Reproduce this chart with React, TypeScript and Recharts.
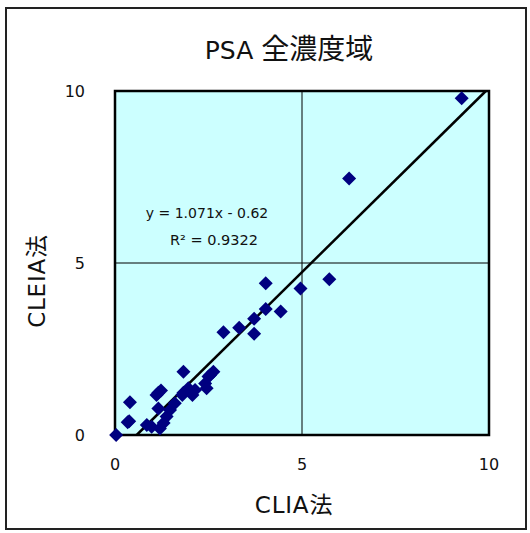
import React from 'react';
import {
  ScatterChart,
  Scatter,
  XAxis,
  YAxis,
  ReferenceArea,
  ReferenceLine,
} from 'recharts';

// CLIA法 (x) vs CLEIA法 (y)
const cliaValues = [
  0.03, 0.34, 0.38, 0.4, 0.85, 0.98, 1.16, 1.11, 1.23, 1.16,
  1.2, 1.3, 1.38, 1.47, 1.6, 1.8, 1.83, 1.83, 1.96, 2.07,
  2.14, 2.41, 2.45, 2.5, 2.54, 2.63, 2.9, 3.32, 3.72, 3.72,
  4.03, 4.03, 4.43, 4.96, 5.73, 6.26, 9.27,
];
const cleiaValues = [
  0.0, 0.37, 0.4, 0.95, 0.29, 0.24, 0.77, 1.16, 1.29, 1.23,
  0.19, 0.35, 0.54, 0.73, 0.92, 1.16, 1.84, 1.23, 1.36, 1.16,
  1.31, 1.5, 1.36, 1.7, 1.74, 1.84, 2.99, 3.12, 3.38, 2.94,
  3.66, 4.41, 3.59, 4.26, 4.53, 7.46, 9.79,
];
const ticks = [0, 5, 10];

const slope = 1.071;
const intercept = -0.62;

const points = cliaValues.map((x, i) => ({ x, y: cleiaValues[i] }));

const FONT = "'DejaVu Sans', Verdana, 'Noto Sans CJK JP', sans-serif";

const Diamond = (props: any) => {
  const { cx, cy } = props;
  const r = 7;
  return (
    <polygon
      points={`${cx},${cy - r} ${cx + r},${cy} ${cx},${cy + r} ${cx - r},${cy}`}
      fill="#000080"
    />
  );
};

export default function App() {
  const lineStart = { x: -intercept / slope, y: 0 };
  const lineEnd = { x: (10 - intercept) / slope, y: 10 };

  return (
    <div style={{ position: 'absolute', left: 0, top: 0, width: 530, height: 533, background: '#fff', fontFamily: FONT, color: '#111' }}>
      <div style={{ position: 'absolute', left: 5, top: 7, width: 518, height: 519, border: '2px solid #222' }} />
      <ScatterChart
        width={530}
        height={533}
        margin={{ top: 91, right: 41, bottom: 38, left: 0 }}
        style={{ position: 'absolute', left: 0, top: 0 }}
      >
        <XAxis
          type="number"
          dataKey="x"
          domain={[0, 10]}
          ticks={ticks}
          height={60}
          axisLine={false}
          tickLine={false}
          tickMargin={18}
          tick={{ fill: '#111', fontSize: 16, fontFamily: FONT }}
        />
        <YAxis
          type="number"
          dataKey="y"
          domain={[0, 10]}
          ticks={ticks}
          width={115}
          axisLine={false}
          tickLine={false}
          tickMargin={24}
          tick={{ fill: '#111', fontSize: 16, fontFamily: FONT }}
        />
        <ReferenceArea x1={0} x2={10} y1={0} y2={10} fill="#CCFFFF" fillOpacity={1} stroke="none" />
        <ReferenceLine x={5} stroke="#000" strokeWidth={1} />
        <ReferenceLine y={5} stroke="#000" strokeWidth={1} />
        <ReferenceArea x1={0} x2={10} y1={0} y2={10} fill="none" stroke="#000" strokeWidth={2.5} />
        <ReferenceLine segment={[lineStart, lineEnd]} stroke="#000" strokeWidth={2.5} />
        <Scatter data={points} shape={<Diamond />} isAnimationActive={false} />
      </ScatterChart>
      <div style={{ position: 'absolute', left: 0, width: 578, top: 33, textAlign: 'center', fontSize: 25, lineHeight: '34px', whiteSpace: 'nowrap' }}>
        PSA <span style={{ fontSize: 28 }}>全濃度域</span>
      </div>
      <div style={{ position: 'absolute', left: 0, width: 588, top: 490, textAlign: 'center', fontSize: 23, lineHeight: '30px', letterSpacing: 0.8 }}>
        CLIA法
      </div>
      <div
        style={{
          position: 'absolute',
          left: 37,
          top: 281,
          fontSize: 23,
          lineHeight: '30px',
          letterSpacing: 0.8,
          whiteSpace: 'nowrap',
          transform: 'translate(-50%, -50%) rotate(-90deg)',
        }}
      >
        CLEIA法
      </div>
      <div style={{ position: 'absolute', left: 107, width: 200, top: 204, textAlign: 'center', fontSize: 14, lineHeight: '18px' }}>
        y = 1.071x - 0.62
      </div>
      <div style={{ position: 'absolute', left: 114, width: 200, top: 231, textAlign: 'center', fontSize: 14.5, lineHeight: '18px' }}>
        R² = 0.9322
      </div>
    </div>
  );
}
